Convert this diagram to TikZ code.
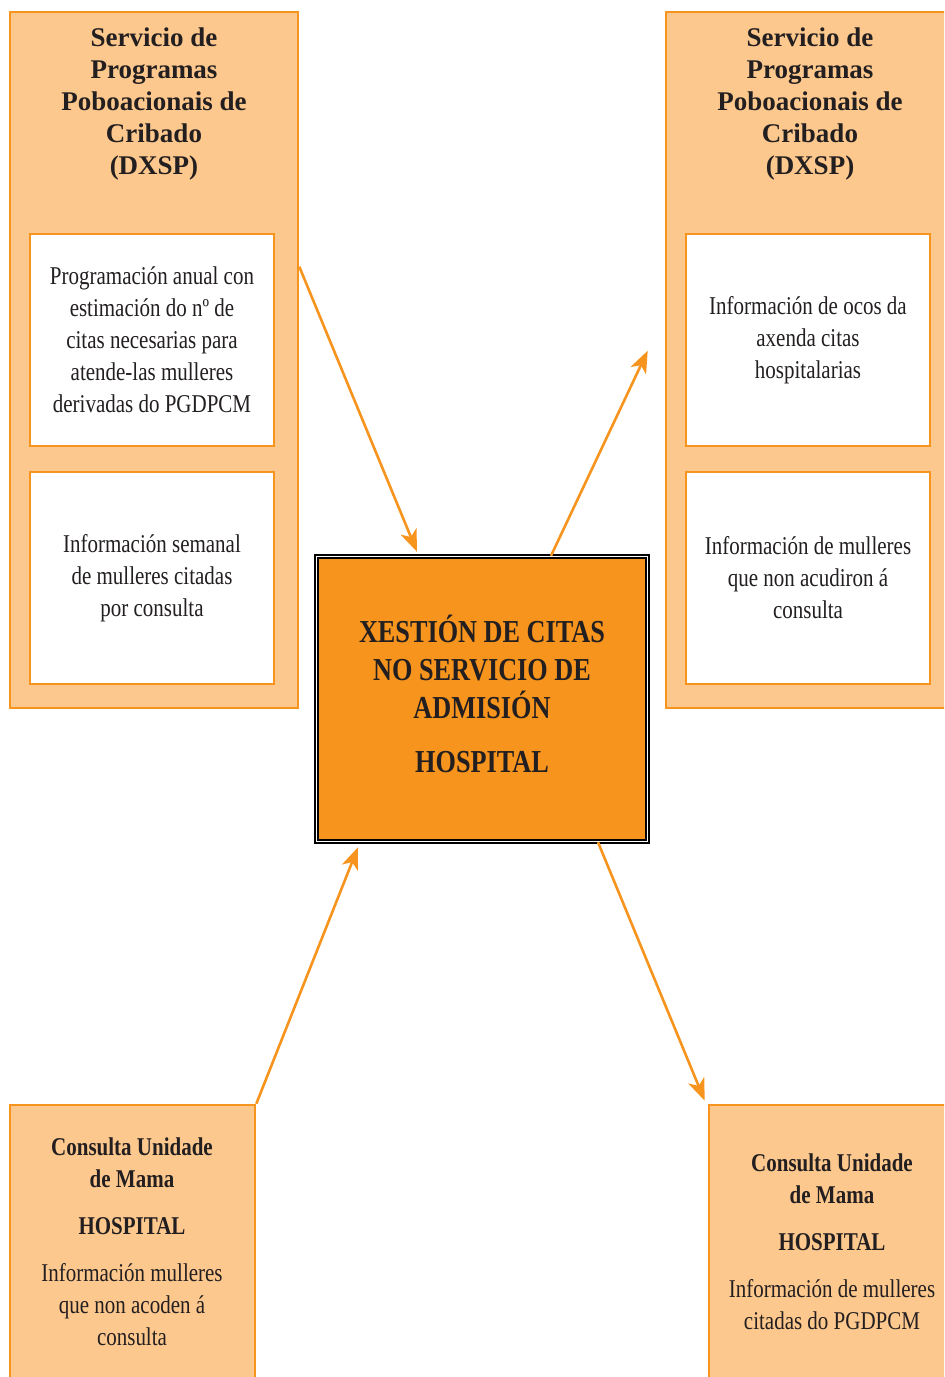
\documentclass[tikz,border=0pt]{standalone}
\usepackage{fontspec}
\setmainfont{Liberation Serif}
\newfontfamily\condfont[FakeStretch=0.82]{Liberation Serif}
\usetikzlibrary{arrows.meta}

\definecolor{paleorange}{HTML}{FDC88D}
\definecolor{deeporange}{HTML}{F7941D}
\definecolor{inkgray}{HTML}{231F20}

\begin{document}
\begin{tikzpicture}[
    x=0.5pt, y=-0.5pt,
    every node/.style={text=inkgray},
    service/.style={
        rectangle, draw=deeporange, line width=1.3pt, fill=paleorange,
        inner sep=0pt
    },
    infobox/.style={
        rectangle, draw=deeporange, line width=1.3pt, fill=white,
        minimum width=122pt, minimum height=106pt,
        align=center, font=\condfont\fontsize{12.8}{16}\selectfont
    },
    heading/.style={align=center, font=\bfseries\fontsize{13.5}{16}\selectfont},
    unitext/.style={align=center, font=\condfont\fontsize{12.8}{16}\selectfont},
    admission/.style={
        rectangle, draw=black, line width=0.7pt, double=white, double distance=0.9pt,
        fill=deeporange, minimum width=165.5pt, minimum height=142.5pt
    },
    admtext/.style={align=center, font=\condfont\bfseries\fontsize{16}{19}\selectfont},
    flow/.style={-{Stealth[length=11pt,width=8.5pt,inset=3pt]}, line width=1.3pt, draw=deeporange}
]
\clip (0,0) rectangle (944,1377);

% Servicio de Programas (esquerda)
\node[service, minimum width=144pt, minimum height=348pt] (svcL) at (154,360) {};
\node[heading] (svcLt) at (154,104) {Servicio de\\Programas\\Poboacionais de\\Cribado\\(DXSP)};
\node[infobox] (progL) at (152,340) {Programación anual con\\estimación do nº de\\citas necesarias para\\atende-las mulleres\\derivadas do PGDPCM};
\node[infobox] (weekL) at (152,578) {Información semanal\\de mulleres citadas\\por consulta};

% Servicio de Programas (dereita)
\node[service, minimum width=142pt, minimum height=348pt] (svcR) at (808,360) {};
\node[heading] (svcRt) at (810,104) {Servicio de\\Programas\\Poboacionais de\\Cribado\\(DXSP)};
\node[infobox] (gapsR) at (808,340) {Información de ocos da\\axenda citas\\hospitalarias};
\node[infobox] (absentR) at (808,578) {Información de mulleres\\que non acudiron á\\consulta};

% Admision
\node[admission] (hosp) at (482,699) {};
\node[admtext] (hospT) at (482,694) {XESTIÓN DE CITAS\\NO SERVICIO DE\\ADMISIÓN\\[8pt]HOSPITAL};

% Consultas
\node[service, minimum width=122.5pt, minimum height=147.5pt] (consL) at (132.5,1252.5) {};
\node[unitext] (consLt) at (132,1242) {\bfseries Consulta Unidade\\\bfseries de Mama\\[7.5pt]\bfseries HOSPITAL\\[7.5pt]Información mulleres\\que non acoden á\\consulta};
\node[service, minimum width=125.5pt, minimum height=147.5pt] (consR) at (834.5,1252.5) {};
\node[unitext] (consRt) at (832,1242) {\bfseries Consulta Unidade\\\bfseries de Mama\\[7.5pt]\bfseries HOSPITAL\\[7.5pt]Información de mulleres\\citadas do PGDPCM};

% Relacions
\coordinate (svcLout) at ([yshift=-128pt]svcL.north east);
\coordinate (svcRin) at ([xshift=-8.5pt,yshift=-170pt]svcR.north west);
\draw[flow] (svcLout) -- ([xshift=-32.5pt,yshift=2pt]hosp.north);
\draw[flow] ([xshift=34.5pt]hosp.north) -- (svcRin);
\draw[flow] (consL.north east) -- ([xshift=-62pt,yshift=-2.5pt]hosp.south);
\draw[flow] ([xshift=58pt]hosp.south) -- ([xshift=-1.5pt,yshift=1.5pt]consR.north west);

\end{tikzpicture}
\end{document}
